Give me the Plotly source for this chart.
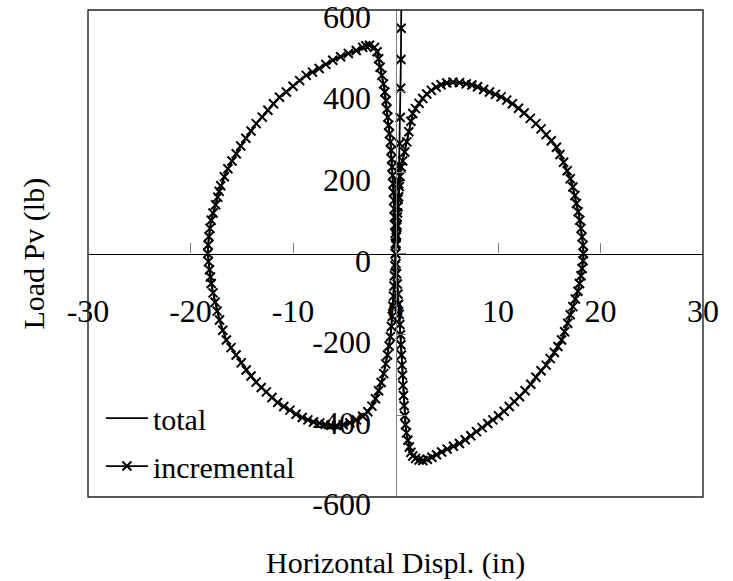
import plotly.graph_objects as go

# Left lobe: from the origin up the inner branch, round the outer arc and back
left_disp = [0.0, -0.02, -0.03, -0.06, -0.1, -0.13, -0.16, -0.19, -0.23, -0.28, -0.33, -0.38, -0.42,
             -0.5, -0.59, -0.67, -0.75, -0.83, -0.91, -1.04, -1.17, -1.33, -1.5, -1.65, -1.8, -2.05,
             -2.54, -2.9, -3.2, -3.83, -4.6, -5.35, -6.12, -6.8, -7.45, -8.1, -8.71, -9.35, -10.0,
             -10.65, -11.32, -11.9, -12.45, -13.0, -13.59, -14.1, -14.6, -15.1, -15.54, -15.95, -16.35,
             -16.7, -17.05, -17.2, -17.34, -17.55, -17.8, -17.98, -18.1, -18.2, -18.28, -18.31,
             -18.25, -18.15, -18.05, -17.98, -17.8, -17.6, -17.4, -17.17, -16.85, -16.5, -16.05, -15.55,
             -15.05, -14.57, -14.1, -13.6, -13.1, -12.6, -12.05, -11.5, -10.9, -10.3, -9.7, -9.1, -8.55,
             -8.0, -7.4, -6.85, -6.3, -5.74, -5.1, -4.45, -3.8, -3.2, -2.7, -2.3, -1.95, -1.65, -1.4,
             -1.15, -0.95, -0.78, -0.62, -0.5, -0.4, -0.32, -0.26, -0.2, -0.15, -0.1, -0.05, 0.0]
left_load = [0, 25, 50, 70, 90, 110, 131, 151, 172, 192, 213, 233, 254,
             275, 295, 316, 336, 356, 377, 398, 418, 439, 459, 480, 497, 508,
             513, 512, 508, 500, 493, 485, 476, 466, 456, 447, 439, 426, 412,
             398, 385, 369, 353, 336, 320, 302, 284, 265, 246, 228, 209,
             189, 167, 153, 139, 120, 100, 82, 62, 42, 21, 0,
             -20, -40, -58, -74, -97, -120, -142, -164, -189, -213, -232, -250,
             -269, -287, -302, -317, -330, -341, -355, -367, -377, -386, -396, -404, -410,
             -415, -418, -421, -423, -424, -422, -417, -410, -401, -390, -376, -358, -338, -318,
             -296, -272, -250, -228, -205, -180, -155, -130, -105, -80, -55, -30, 0]

# Right lobe: from the origin down the inner branch, round the outer arc and back
right_disp = [0.05, 0.1, 0.17, 0.24, 0.3, 0.36, 0.42, 0.48, 0.53, 0.58, 0.63, 0.68, 0.73, 0.78,
              0.84, 0.9, 0.98, 1.07, 1.2, 1.35, 1.5, 1.69, 1.95, 2.3, 2.67, 3.1, 3.55, 4.0, 4.5,
              5.05, 5.65, 6.24, 6.8, 7.35, 7.9, 8.45, 9.0, 9.5, 10.05, 10.6, 11.1, 11.6, 12.1,
              12.65, 13.2, 13.7, 14.2, 14.7, 15.1, 15.5, 15.85, 16.2, 16.5, 16.8, 17.05, 17.3,
              17.55, 17.8, 17.95, 18.1, 18.2, 18.3, 18.34,
              18.3, 18.2, 18.1, 17.98, 17.82, 17.65, 17.5, 17.3, 17.05, 16.75, 16.4, 16.05, 15.7,
              15.2, 14.7, 14.2, 13.7, 13.15, 12.55, 12.0, 11.4, 10.85, 10.3, 9.75, 9.17, 8.6, 8.0,
              7.45, 6.9, 6.25, 5.6, 5.0, 4.45, 3.97, 3.5, 3.05, 2.66, 2.3, 1.95, 1.69, 1.5, 1.3,
              1.1, 0.9, 0.7, 0.55, 0.45, 0.37, 0.3, 0.23, 0.17, 0.12, 0.07, 0.03, 0.0]
right_load = [-25, -50, -75, -100, -125, -150, -175, -200, -225, -250, -275, -300, -325, -350,
              -375, -400, -422, -442, -460, -477, -490, -499, -505, -509, -510, -507, -502, -496, -489,
              -482, -475, -468, -459, -449, -439, -429, -419, -410, -400, -389, -377, -365, -353,
              -338, -322, -305, -289, -275, -259, -244, -229, -213, -193, -172, -151, -131,
              -112, -93, -74, -55, -37, -18, 0,
              20, 41, 62, 82, 103, 123, 143, 164, 184, 204, 225, 244, 262,
              278, 293, 307, 320, 333, 346, 358, 369, 378, 386, 392, 398, 404, 411,
              415, 418, 421, 422, 420, 416, 410, 402, 393, 382, 370, 357, 345, 326, 300,
              275, 250, 228, 213, 190, 165, 140, 115, 90, 65, 40, 20, 0]

# Incremental solution drifting upward after the last cycle
drift_disp = [0.05, 0.1, 0.15, 0.2, 0.25, 0.3, 0.35, 0.4, 0.46, 0.5, 0.53, 0.55, 0.57]
drift_load = [25, 45, 70, 100, 134, 172, 217, 271, 335, 407, 478, 555, 635]

x_ticks = [-30, -20, -10, 0, 10, 20, 30]
x_tick_text = ["-30", "-20", "-10", "0", "10", "20", "30"]
y_ticks = [-600, -400, -200, 0, 200, 400, 600]
y_tick_text = ["-600", "-400", "-200", "0", "200", "400", "600"]

total_x = left_disp + right_disp
total_y = left_load + right_load
incr_x = left_disp + right_disp + drift_disp
incr_y = left_load + right_load + drift_load

FONT = "Liberation Serif"

fig = go.Figure()
fig.add_trace(go.Scatter(
    x=total_x, y=total_y, mode="lines", name="total",
    line=dict(color="black", width=1.8), legendgroup="a",
))
fig.add_trace(go.Scatter(
    x=incr_x, y=incr_y, mode="lines+markers", name="incremental",
    line=dict(color="black", width=1.8),
    marker=dict(symbol="x-thin-open", size=9, color="black", line=dict(width=2, color="black")),
    legendgroup="b",
))

fig.update_layout(
    width=733, height=581,
    margin=dict(l=88, r=30, t=10, b=84, autoexpand=False),
    paper_bgcolor="white", plot_bgcolor="white",
    font=dict(family=FONT, color="black"),
    showlegend=True,
    legend=dict(
        x=0.021, y=0.2155, xanchor="left", yanchor="top",
        bgcolor="rgba(0,0,0,0)", font=dict(family=FONT, size=30, color="black"),
        traceorder="grouped", tracegroupgap=6, itemwidth=42,
    ),
    xaxis=dict(
        range=[-30, 30], domain=[0, 1], anchor="free", position=0.5,
        showgrid=False, zeroline=False, automargin=False,
        showline=True, linecolor="black", linewidth=1.3,
        ticks="inside", ticklen=10, tickcolor="#808080", tickwidth=1,
        tickvals=x_ticks, ticktext=x_tick_text,
        tickfont=dict(family=FONT, size=32, color="black"),
        ticklabelstandoff=29, ticklabeloverflow="allow",
    ),
    yaxis=dict(
        range=[-600, 600], domain=[0, 1], anchor="free", position=0.5,
        showgrid=False, zeroline=False, automargin=False,
        showline=True, linecolor="#808080", linewidth=1.3,
        ticks="inside", ticklen=9, tickcolor="#808080", tickwidth=1,
        tickvals=y_ticks, ticktext=y_tick_text,
        tickfont=dict(family=FONT, size=32, color="black"),
        ticklabelstandoff=18, ticklabelshift=7, ticklabeloverflow="allow",
    ),
    shapes=[dict(
        type="rect", xref="paper", yref="paper", x0=0, x1=1, y0=0, y1=1,
        line=dict(color="#222222", width=1.4), layer="above",
    )],
    annotations=[
        dict(text="Horizontal Displ. (in)", xref="paper", yref="paper",
             x=0.5, y=-0.136, xanchor="center", yanchor="middle", showarrow=False,
             font=dict(family=FONT, size=30, color="black")),
        dict(text="Load Pv (lb)", xref="paper", yref="paper",
             x=-0.0894, y=0.5, xanchor="center", yanchor="middle", showarrow=False,
             textangle=-90, font=dict(family=FONT, size=30, color="black")),
    ],
)

fig.write_html("out.html")
